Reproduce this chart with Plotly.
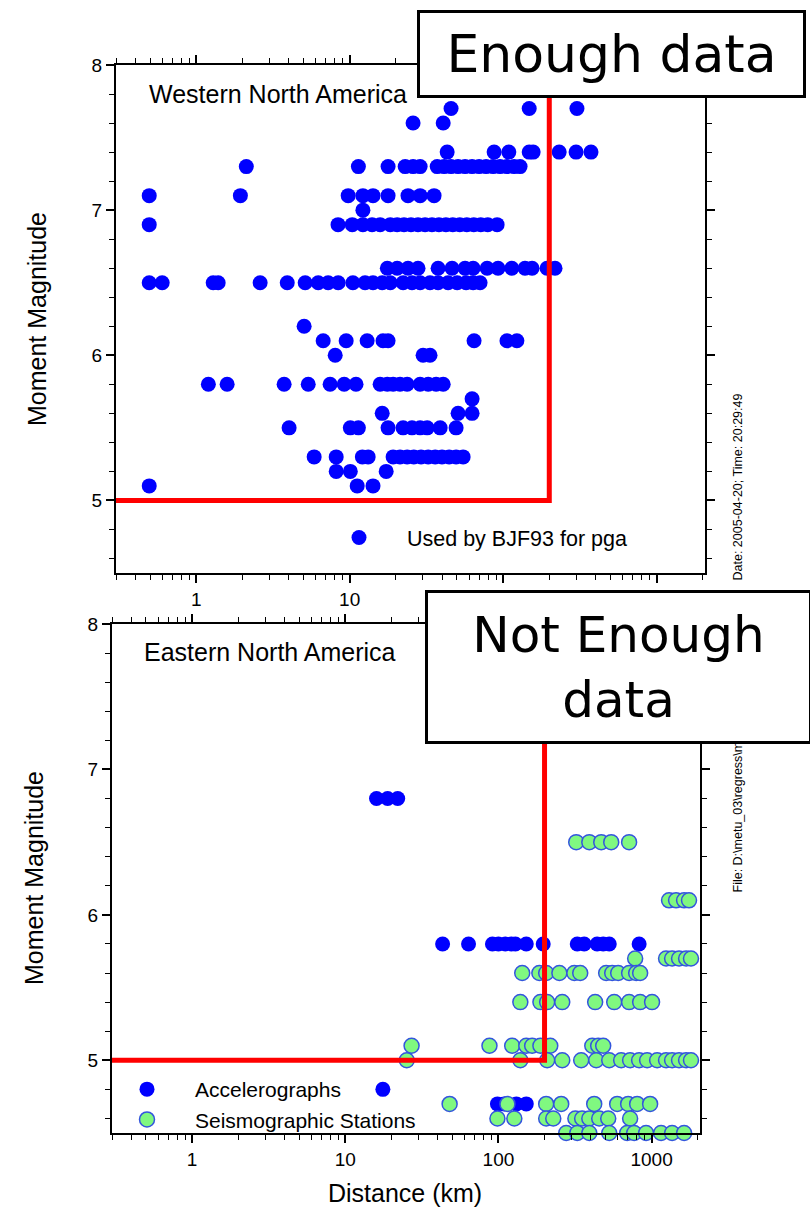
import math
import plotly.graph_objects as go

# ---------------- data ----------------
# Western North America: magnitude rows and distances (km) of points in each row
wna_magnitudes = [7.7, 7.6, 7.4, 7.3, 7.1, 7.0, 6.9, 6.6, 6.5, 6.2, 6.1, 6.0,
                  5.8, 5.7, 5.6, 5.5, 5.3, 5.2, 5.1]
wna_distances = [
    [45.8, 148, 303],
    [25.9, 40.7],
    [43.2, 87.4, 109, 148, 157, 232, 299, 374],
    [2.12, 11.4, 17.8, 23.0, 25.9, 28.8, 37.2, 41.3, 45.8, 50.9, 56.5, 62.8,
     69.8, 77.5, 86.1, 95.6, 106, 118, 129],
    [0.494, 1.94, 9.78, 12.2, 14.2, 17.8, 24.0, 28.8, 35.5],
    [12.2],
    [0.494, 8.4, 10.4, 12.2, 14.0, 15.8, 18.4, 20.4, 22.6, 25.1, 27.9, 31.0,
     34.4, 38.2, 42.4, 47.0, 52.2, 58.0, 64.4, 71.5, 79.4, 91.4],
    [17.6, 20.4, 24.0, 27.9, 37.7, 46.5, 56.5, 63.8, 78.7, 92.7, 114, 139,
     154.5, 193.5, 218],
    [0.494, 0.60, 1.29, 1.39, 2.61, 3.92, 5.13, 6.24, 7.24, 8.42, 10.5, 12.6,
     14.2, 16.3, 18.4, 22.3, 25.5, 28.8, 33.4, 37.7, 43.8, 50.2, 57.4, 63.8, 70.8],
    [5.05],
    [6.72, 9.49, 13.0, 16.5, 17.8, 64.7, 106, 123],
    [8.05, 30.1, 33.4],
    [1.20, 1.59, 3.74, 5.37, 7.46, 9.21, 11.0, 15.8, 17.6, 19.2, 21.3, 23.7,
     28.8, 32.5, 36.6, 40.7],
    [62.8],
    [16.3, 50.9, 62.8],
    [4.03, 10.1, 11.4, 17.8, 22.3, 25.5, 28.8, 32.0, 38.9, 49.4],
    [5.87, 8.17, 12.1, 13.2, 19.2, 21.3, 23.7, 26.2, 29.2, 32.5, 36.1, 40.0,
     44.5, 49.4, 54.9],
    [8.17, 10.1, 17.3],
    [0.494, 11.2, 14.2],
]

# Eastern North America - accelerographs
ena_acc_magnitudes = [6.8, 5.8, 4.8, 4.7]
ena_acc_distances = [
    [16.0, 18.9, 22.0],
    [43.2, 63.8, 91.4, 100, 111, 121.5, 129, 152, 196, 327, 363, 441, 483, 529, 829],
    [17.6],
    [98.5, 109, 131, 152],
]

# Eastern North America - seismographic stations
ena_seis_magnitudes = [6.5, 6.1, 5.7, 5.6, 5.4, 5.1, 5.0, 4.7, 4.6, 4.5]
ena_seis_distances = [
    [322, 392, 469, 545, 713],
    [1300, 1445, 1630, 1755],
    [781, 1243, 1361, 1511, 1680, 1808],
    [143, 185, 205, 250, 313, 342, 505, 553, 605, 713, 793, 842],
    [139, 188, 208, 261, 428, 570, 713, 842, 1007],
    [27.1, 87.4, 123, 152, 166, 188, 218, 410, 448, 483],
    [25.2, 139, 208, 261, 347, 435, 529, 633, 724, 829, 935, 1087, 1243, 1361,
     1511, 1680, 1808],
    [48, 114.5, 205, 257, 422, 596, 703, 805, 978],
    [98.5, 127, 205, 228, 318, 352, 392, 455, 521, 724],
    [277, 327, 392, 529, 692, 769, 920, 1153, 1361, 1630],
]

# "enough data" threshold lines
threshold_magnitude = 5.0
threshold_distance = 200
distance_min, distance_max = 0.3, 2070
magnitude_min, magnitude_max = 4.5, 8.0

tick_distances = [1, 10, 100, 1000]
tick_magnitudes = [5, 6, 7, 8]


def flatten(mags, dists):
    xs, ys = [], []
    for m, row in zip(mags, dists):
        for d in row:
            xs.append(d)
            ys.append(m)
    return xs, ys


wna_x, wna_y = flatten(wna_magnitudes, wna_distances)
acc_x, acc_y = flatten(ena_acc_magnitudes, ena_acc_distances)
seis_x, seis_y = flatten(ena_seis_magnitudes, ena_seis_distances)

thr_x = [distance_min, threshold_distance, threshold_distance]
thr_y = [threshold_magnitude, threshold_magnitude, magnitude_max]

# ---------------- figure ----------------
W, H = 810, 1207
FONT = "Arial, 'Liberation Sans', sans-serif"
BLUE = "#0000ff"
RED = "#ff0000"
GREEN = "#80f880"


def px_x(p):
    return p / W


def px_y(p):
    return 1 - p / H


fig = go.Figure()

fig.add_trace(go.Scatter(
    x=wna_x, y=wna_y, mode="markers", name="Used by BJF93 for pga",
    marker=dict(color=BLUE, size=15, line=dict(width=0)),
    xaxis="x", yaxis="y", legend="legend", cliponaxis=False))
fig.add_trace(go.Scatter(
    x=thr_x, y=thr_y, mode="lines", showlegend=False,
    line=dict(color=RED, width=5), xaxis="x", yaxis="y", cliponaxis=False))

fig.add_trace(go.Scatter(
    x=acc_x, y=acc_y, mode="markers", name="Accelerographs",
    marker=dict(color=BLUE, size=15, line=dict(width=0)),
    xaxis="x2", yaxis="y2", legend="legend2", cliponaxis=False))
fig.add_trace(go.Scatter(
    x=seis_x, y=seis_y, mode="markers", name="Seismographic Stations",
    marker=dict(color=GREEN, size=15, line=dict(color="#3355dd", width=1.5)),
    xaxis="x2", yaxis="y2", legend="legend2", cliponaxis=False))
fig.add_trace(go.Scatter(
    x=thr_x, y=thr_y, mode="lines", showlegend=False,
    line=dict(color=RED, width=5), xaxis="x2", yaxis="y2", cliponaxis=False))

xcommon = dict(
    type="log", range=[math.log10(distance_min), math.log10(distance_max)],
    tickmode="array", tickvals=tick_distances,
    ticktext=[str(v) for v in tick_distances],
    showline=True, linecolor="black", linewidth=2, mirror="ticks",
    ticks="outside", ticklen=8, tickwidth=1.5, tickcolor="black",
    showgrid=False, zeroline=False,
    tickfont=dict(family=FONT, size=19, color="black"),
    minor=dict(ticks="outside", ticklen=5, tickwidth=1.2, tickcolor="black",
               showgrid=False,
               tickvals=[v * k for v in [0.1, 1, 10, 100, 1000] for k in range(2, 10)]),
)
ycommon = dict(
    range=[magnitude_min, magnitude_max], tickmode="array",
    tickvals=tick_magnitudes, ticktext=[str(v) for v in tick_magnitudes],
    showline=True, linecolor="black", linewidth=2, mirror="ticks",
    ticks="outside", ticklen=8, tickwidth=1.5, tickcolor="black",
    showgrid=False, zeroline=False,
    tickfont=dict(family=FONT, size=19, color="black"),
    minor=dict(ticks="outside", ticklen=5, tickwidth=1.2, tickcolor="black",
               showgrid=False, dtick=0.2, tick0=4.6),
)

fig.update_layout(
    width=W, height=H, autosize=False,
    margin=dict(l=0, r=0, t=0, b=0, pad=0, autoexpand=False),
    paper_bgcolor="white", plot_bgcolor="white",
    xaxis=dict(xcommon, domain=[px_x(116), px_x(705)], anchor="y"),
    yaxis=dict(ycommon, domain=[px_y(573), px_y(65)], anchor="x"),
    xaxis2=dict(xcommon, domain=[px_x(112), px_x(700)], anchor="y2"),
    yaxis2=dict(ycommon, domain=[px_y(1133), px_y(624)], anchor="x2"),
    legend=dict(x=px_x(311), y=px_y(517), xanchor="left", yanchor="top",
                bgcolor="rgba(0,0,0,0)", itemwidth=86,
                font=dict(family=FONT, size=21.5, color="black")),
    legend2=dict(x=px_x(99), y=px_y(1069), xanchor="left", yanchor="top",
                 bgcolor="rgba(0,0,0,0)", itemwidth=86, tracegroupgap=0,
                 font=dict(family=FONT, size=21, color="black")),
)

ann = []
# side texts (file / date stamp)
ann.append(dict(text="File: D:\\metu_03\\regress\\m", x=px_x(737), y=px_y(895),
                xref="paper", yref="paper", xanchor="center", yanchor="bottom",
                textangle=-90, showarrow=False,
                font=dict(family=FONT, size=12.5, color="black")))
ann.append(dict(text="Date: 2005-04-20; Time: 20:29:49", x=px_x(737), y=px_y(583),
                xref="paper", yref="paper", xanchor="center", yanchor="bottom",
                textangle=-90, showarrow=False,
                font=dict(family=FONT, size=12.5, color="black")))
# axis titles
for yc, xc in [(319, 37), (878, 34)]:
    ann.append(dict(text="Moment Magnitude", x=px_x(xc), y=px_y(yc),
                    xref="paper", yref="paper", xanchor="center", yanchor="middle",
                    textangle=-90, showarrow=False,
                    font=dict(family=FONT, size=25, color="black")))
ann.append(dict(text="Distance (km)", x=px_x(405), y=px_y(1193),
                xref="paper", yref="paper", xanchor="center", yanchor="middle",
                showarrow=False, font=dict(family=FONT, size=25, color="black")))
# panel labels
ann.append(dict(text="Western North America", x=px_x(147), y=px_y(94),
                xref="paper", yref="paper", xanchor="left", yanchor="middle",
                showarrow=False, font=dict(family=FONT, size=25, color="black")))
ann.append(dict(text="Eastern North America", x=px_x(142), y=px_y(652),
                xref="paper", yref="paper", xanchor="left", yanchor="middle",
                showarrow=False, font=dict(family=FONT, size=25, color="black")))
# callout boxes
BOXFONT = "'DejaVu Sans', sans-serif"
ann.append(dict(text="Enough data", x=px_x(417), y=px_y(10),
                xref="paper", yref="paper", xanchor="left", yanchor="top",
                showarrow=False, width=383, height=82, borderpad=0,
                bordercolor="black", borderwidth=3, bgcolor="white",
                font=dict(family=BOXFONT, size=52, color="black")))
ann.append(dict(text="Not Enough<br>data", x=px_x(425), y=px_y(590),
                xref="paper", yref="paper", xanchor="left", yanchor="top",
                showarrow=False, width=381, height=148, borderpad=0,
                bordercolor="black", borderwidth=3, bgcolor="white",
                font=dict(family=BOXFONT, size=50, color="black")))
fig.update_layout(annotations=ann)

fig.write_html("out.html")
